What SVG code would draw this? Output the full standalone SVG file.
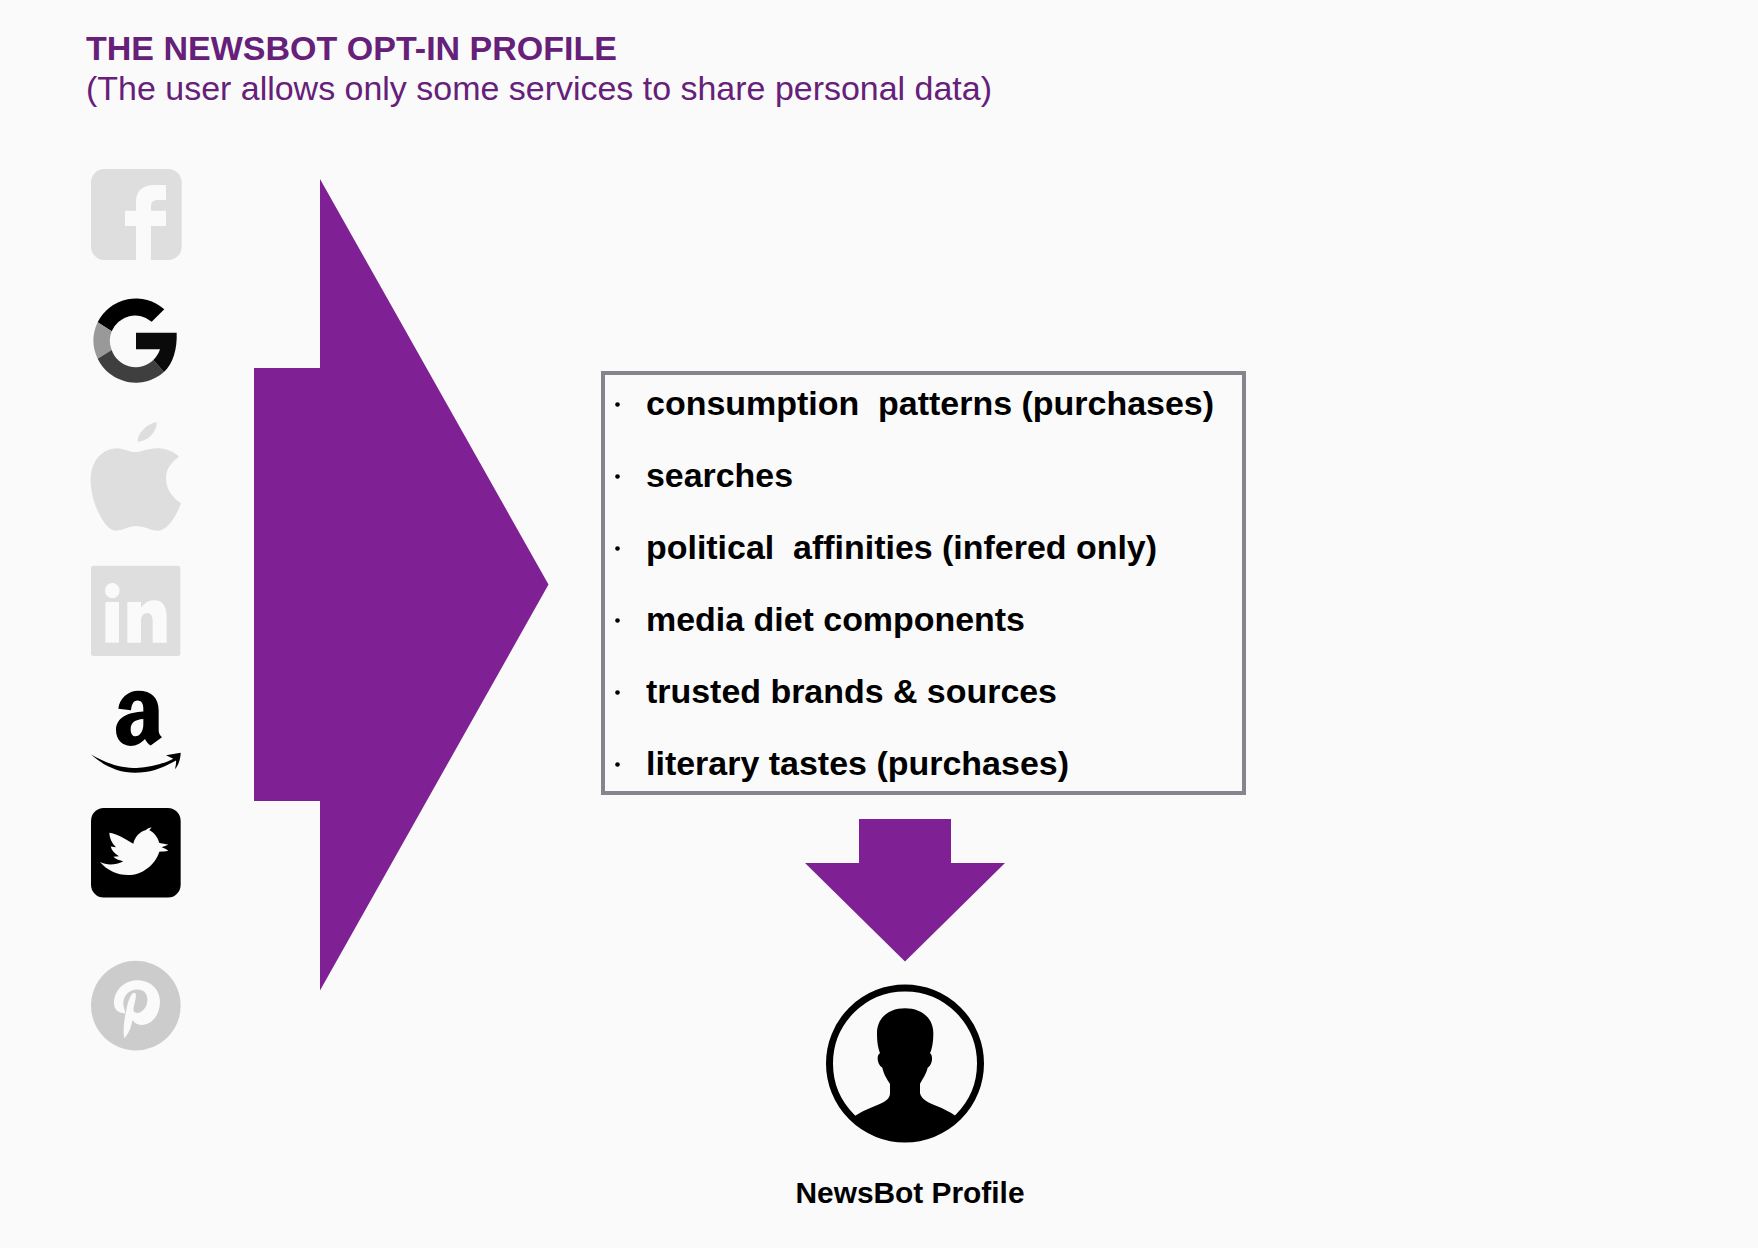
<svg xmlns="http://www.w3.org/2000/svg" width="1758" height="1248" viewBox="0 0 1758 1248">
<style>
text{font-family:"Liberation Sans",Arial,sans-serif;white-space:pre}
.item{font-size:33px;font-weight:700;fill:#000}
.bullet{fill:#000}
.arrow{fill:#7f2195}
.faded{fill:#dedede}
.knock{fill:#fafafa}
</style>
<rect width="1758" height="1248" fill="#fafafa"/>
<g id="title">
<text x="86" y="59.5" font-size="34" font-weight="700" fill="#662079" textLength="531" lengthAdjust="spacingAndGlyphs">THE NEWSBOT OPT-IN PROFILE</text>
<text x="86" y="99.5" font-size="33.5" fill="#662079" textLength="906" lengthAdjust="spacingAndGlyphs">(The user allows only some services to share personal data)</text>
</g>
<g id="facebook" transform="translate(60,140) scale(.33333)">
<rect class="faded" x="93" y="87" width="272" height="273" rx="40"/>
<path class="knock" d="M228 360V258H195V212H228V185C228 150 250 135 285 135H318V180H295C278 180 273 187 273 200V212H318V258H273V360Z"/>
</g>
<g id="google" transform="translate(60,140) scale(.33333)">
<path fill="#000" d="M313 508A128 128 0 0 0 113 547L155 574A76 76 0 0 1 275 545Z"/>
<path fill="#999" d="M113 547A127 127 0 0 0 113 656L155 630A76 76 0 0 1 155 574Z"/>
<path fill="#3f3f3f" d="M113 656A127 127 0 0 0 312 696L280 660A76 76 0 0 1 155 630Z"/>
<path fill="#0a0a0a" d="M228 578H350C352 625 340 670 312 696L280 660C290 650 296 640 300 628H228Z"/>
</g>
<g id="apple" transform="translate(60,140) scale(.33333)">
<path class="faded" d="M233 905C232 880 262 850 290 847C292 875 262 905 233 905Z"/>
<path class="faded" d="M172 925C190 925 210 937 225 937C240 937 265 924 295 925C320 926 342 935 357 950C335 965 318 985 318 1015C318 1050 340 1075 363 1090C350 1125 325 1170 295 1172C270 1172 255 1158 228 1158C205 1158 190 1172 165 1172C135 1170 92 1090 92 1020C92 960 130 925 172 925Z"/>
</g>
<g id="linkedin" transform="translate(60,540) scale(.33333,.34439)">
<rect class="faded" x="93" y="75" width="268" height="262" rx="8"/>
<circle class="knock" cx="157" cy="147" r="22"/>
<rect class="knock" x="136" y="180" width="41" height="118"/>
<path class="knock" d="M202 180H243V197C255 180 270 175 285 175C310 175 320 195 320 225V298H278V235C278 220 272 212 262 212C250 212 243 222 243 235V298H202Z"/>
</g>
<g id="amazon" transform="translate(60,540) scale(.33333,.34439)">
<path fill="#000" fill-rule="evenodd" d="M175 490C178 460 205 438 235 438C275 438 296 460 296 495V550C296 562 300 566 306 573L272 597C264 592 258 585 255 578C243 590 230 598 212 598C185 598 168 578 168 552C168 515 205 500 250 498V490C250 475 245 466 232 466C222 466 215 475 213 494ZM250 520C225 522 212 530 212 550C212 562 218 570 226 570C240 570 250 555 250 535Z"/>
<path fill="#000" d="M93 623C150 655 190 662 230 662C270 660 310 650 340 635L318 625L362 618C362 635 355 655 345 666C347 655 349 648 348 640C310 662 270 676 225 676C175 676 130 655 93 623Z"/>
</g>
<g id="twitter" transform="translate(60,540) scale(.33333,.34439)">
<rect fill="#000" x="93" y="778" width="269" height="260" rx="38"/>
<path class="knock" d="M148 850C170 852 200 870 220 882C224 862 240 846 258 842C262 838 268 835 275 834L268 843C280 848 292 860 298 880C307 882 316 883 325 885L305 892C312 895 320 898 325 902C315 904 305 904 298 905C285 945 245 973 205 973C170 973 140 958 120 935C140 945 165 945 190 933C180 930 168 928 160 920L177 918C165 912 155 902 152 890L168 892C155 880 148 865 148 850Z"/>
</g>
<g id="pinterest" transform="translate(60,540) scale(.33333,.34439)">
<ellipse fill="#ccc" cx="227.500" cy="1352" rx="134.500" ry="130"/>
<path class="knock" d="M162 1345C162 1305 195 1278 232 1278C272 1278 300 1305 300 1340C300 1380 275 1408 245 1408C232 1408 222 1402 218 1393C212 1420 205 1435 193 1447C188 1425 192 1395 200 1360C205 1335 215 1315 222 1315C238 1315 215 1360 222 1370C235 1380 262 1365 262 1335C262 1315 250 1305 232 1305C205 1305 190 1325 190 1345C190 1360 197 1365 195 1375C175 1372 162 1365 162 1345Z"/>
</g>
<g id="connectors">
<polygon class="arrow" points="254,368 320,368 320,179 548.500,584.500 320,990.500 320,801 254,801"/>
<polygon class="arrow" points="859,819 951,819 951,863 1005,863 905,961.500 805,863 859,863"/>
</g>
<g id="data-list">
<rect x="603" y="373" width="641" height="420" fill="none" stroke="#85858f" stroke-width="4"/>
<circle class="bullet" cx="617.500" cy="404.500" r="2.300"/>
<circle class="bullet" cx="617.500" cy="476.500" r="2.300"/>
<circle class="bullet" cx="617.500" cy="548.500" r="2.300"/>
<circle class="bullet" cx="617.500" cy="620.500" r="2.300"/>
<circle class="bullet" cx="617.500" cy="692.500" r="2.300"/>
<circle class="bullet" cx="617.500" cy="764.500" r="2.300"/>
<text class="item" x="646" y="414.500" textLength="568" lengthAdjust="spacingAndGlyphs">consumption  patterns (purchases)</text>
<text class="item" x="646" y="486.500" textLength="147" lengthAdjust="spacingAndGlyphs">searches</text>
<text class="item" x="646" y="558.500" textLength="511" lengthAdjust="spacingAndGlyphs">political  affinities (infered only)</text>
<text class="item" x="646" y="630.500" textLength="379" lengthAdjust="spacingAndGlyphs">media diet components</text>
<text class="item" x="646" y="702.500" textLength="411" lengthAdjust="spacingAndGlyphs">trusted brands &amp; sources</text>
<text class="item" x="646" y="774.500" textLength="423" lengthAdjust="spacingAndGlyphs">literary tastes (purchases)</text>
</g>
<g id="newsbot-profile">
<path transform="translate(780,800) scale(.33333)" fill="#000" d="M375 625C420 625 460 650 460 700C460 730 455 750 450 760C460 765 458 795 443 803C438 825 425 840 420 852V880C425 900 445 908 470 918C490 926 510 936 524 946L535 955A226 226 0 0 1 217 955L228 946C250 932 265 926 285 918C310 908 330 900 330 880V852C320 835 312 825 307 803C292 795 288 765 300 760C295 745 291 730 291 700C291 650 330 625 375 625Z"/>
<circle cx="905" cy="1063.500" r="75.500" fill="none" stroke="#000" stroke-width="7"/>
<text x="795.500" y="1203" font-size="29.500" font-weight="700" fill="#000" textLength="229" lengthAdjust="spacingAndGlyphs">NewsBot Profile</text>
</g>
</svg>
